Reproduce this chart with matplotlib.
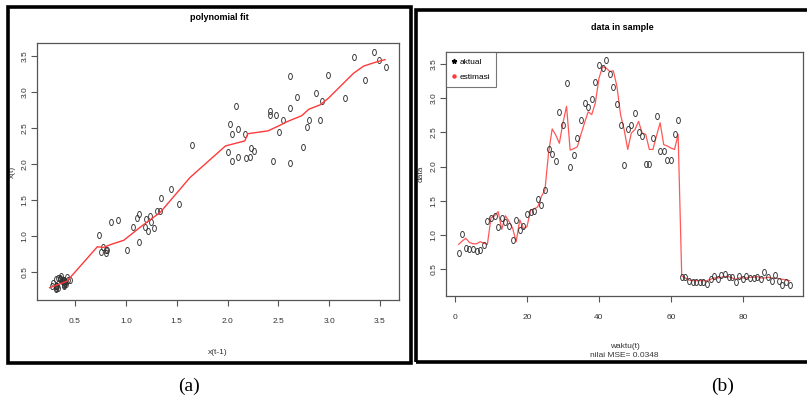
import numpy as np
import matplotlib
matplotlib.use("Agg")
import matplotlib.pyplot as plt
from matplotlib.path import Path
from matplotlib.patches import Rectangle

# actual series (data in sample), t = 1..93
aktual = [0.74, 1.01, 0.81, 0.80, 0.80, 0.76, 0.78, 0.85, 1.20, 1.24,
          1.28, 1.11, 1.25, 1.19, 1.13, 0.92, 1.22, 1.07, 1.13, 1.31,
          1.34, 1.35, 1.52, 1.44, 1.65, 2.26, 2.18, 2.08, 2.80, 2.61,
          3.22, 2.00, 2.17, 2.42, 2.68, 2.93, 2.87, 2.99, 3.24, 3.49,
          3.44, 3.56, 3.35, 3.16, 2.91, 2.61, 2.02, 2.55, 2.61, 2.78,
          2.51, 2.45, 2.04, 2.04, 2.42, 2.74, 2.23, 2.22, 2.10, 2.10,
          2.48, 2.68, 0.38, 0.39, 0.32, 0.31, 0.31, 0.31, 0.31, 0.28,
          0.35, 0.40, 0.35, 0.42, 0.43, 0.39, 0.39, 0.31, 0.40, 0.35,
          0.40, 0.37, 0.37, 0.39, 0.36, 0.45, 0.39, 0.33, 0.41, 0.33,
          0.27, 0.31, 0.26]

# fitted series (estimasi)
estimasi = [0.86, 0.91, 0.95, 0.89, 0.87, 0.87, 0.90, 0.88, 0.86, 1.25,
            1.28, 1.34, 1.08, 1.28, 1.20, 1.10, 0.90, 1.22, 1.09, 1.12,
            1.36, 1.38, 1.41, 1.56, 1.66, 2.20, 2.55, 2.46, 2.34, 2.64,
            2.88, 2.24, 2.26, 2.29, 2.47, 2.64, 2.80, 2.76, 2.93, 3.29,
            3.46, 3.44, 3.39, 3.40, 3.17, 2.76, 2.54, 2.25, 2.49, 2.54,
            2.66, 2.49, 2.47, 2.25, 2.25, 2.45, 2.64, 2.32, 2.30, 2.27,
            2.25, 2.47, 0.40, 0.37, 0.34, 0.33, 0.33, 0.33, 0.33, 0.33,
            0.35, 0.37, 0.37, 0.38, 0.39, 0.39, 0.37, 0.35, 0.37, 0.37,
            0.37, 0.38, 0.38, 0.39, 0.37, 0.37, 0.38, 0.37, 0.37, 0.36,
            0.35, 0.34, 0.33]

# polynomial fit curve (left panel)
fit_x = [0.25, 0.42, 0.62, 0.72, 0.78, 0.85, 0.98, 1.14, 1.34, 1.63,
         1.98, 2.17, 2.20, 2.40, 2.52, 2.59, 2.73, 2.80, 2.91, 2.99,
         3.24, 3.34, 3.45, 3.55]
fit_y = [0.28, 0.37, 0.69, 0.85, 0.84, 0.88, 0.94, 1.12, 1.33, 1.81,
         2.25, 2.32, 2.42, 2.46, 2.54, 2.59, 2.67, 2.76, 2.82, 2.91,
         3.26, 3.36, 3.41, 3.45]

# time steps whose (x(t-1), x(t)) pair does not show in the lag plot
lag_skip = [32, 63]

t = np.arange(1, len(aktual) + 1)
act = np.array(aktual)
x_prev = act[:-1]
x_next = act[1:]
keep = ~np.isin(t[1:], lag_skip)

# tall "0"-like open circle marker
th = np.linspace(0, 2 * np.pi, 40)
oval = Path(np.column_stack([0.62 * np.cos(th), np.sin(th)]))

plt.rcParams['font.family'] = ['Liberation Sans', 'DejaVu Sans']
W, H = 807, 405
fig = plt.figure(figsize=(W / 100, H / 100), dpi=100)

def box(x0, y0, x1, y1):
    return [x0 / W, 1 - y1 / H, (x1 - x0) / W, (y1 - y0) / H]

def style(ax):
    for s in ax.spines.values():
        s.set_color('#555555')
        s.set_linewidth(0.9)
    ax.tick_params(direction='out', length=4, width=0.8, color='#555555',
                   labelsize=6, labelcolor='#333333', pad=2)
    for lab in ax.get_yticklabels():
        lab.set_rotation(90)
        lab.set_va('center')

# frames
fig.patches.append(Rectangle((8 / W, 1 - 363 / H), 403 / W, 356 / H, fill=False,
                             lw=2.6, ec='black', transform=fig.transFigure))
fig.patches.append(Rectangle((416 / W, 1 - 362 / H), 400 / W, 352 / H, fill=False,
                             lw=2.6, ec='black', transform=fig.transFigure))

# (a) polynomial fit
ax1 = fig.add_axes(box(37, 43, 399, 300))
ax1.plot(x_prev[keep], x_next[keep], linestyle='none', marker=oval, markersize=4.4,
         mfc='none', mec='#333333', mew=0.65)
ax1.plot(fit_x, fit_y, color='#ff3a3a', lw=1.0)
ax1.set_xlim(0.126, 3.687)
ax1.set_ylim(0.11, 3.68)
ax1.set_xticks([0.5, 1.0, 1.5, 2.0, 2.5, 3.0, 3.5])
ax1.set_yticks([0.5, 1.0, 1.5, 2.0, 2.5, 3.0, 3.5])
ax1.set_xticklabels(['0.5', '1.0', '1.5', '2.0', '2.5', '3.0', '3.5'])
ax1.set_yticklabels(['0.5', '1.0', '1.5', '2.0', '2.5', '3.0', '3.5'])
style(ax1)
ax1.tick_params(axis='x', pad=9)
ax1.set_xlabel('x(t-1)', fontsize=6, color='#333333', labelpad=17)
ax1.set_ylabel('x(t)', fontsize=6, color='#333333', labelpad=4)
fig.text(219 / W, 1 - 18 / H, 'polynomial fit', ha='center', va='center',
         fontsize=6.5, fontweight='bold')

# (b) data in sample
ax2 = fig.add_axes(box(446, 52, 803, 296))
ax2.plot(t, estimasi, color='#ff3a3a', lw=0.9, alpha=0.85)
ax2.plot(t, aktual, linestyle='none', marker=oval, markersize=4.4,
         mfc='none', mec='#333333', mew=0.65)
ax2.set_xlim(-2.5, 96.7)
ax2.set_ylim(0.106, 3.675)
ax2.set_xticks([0, 20, 40, 60, 80])
ax2.set_yticks([0.5, 1.0, 1.5, 2.0, 2.5, 3.0, 3.5])
ax2.set_yticklabels(['0.5', '1.0', '1.5', '2.0', '2.5', '3.0', '3.5'])
style(ax2)
ax2.tick_params(axis='x', pad=9)
ax2.set_xlabel('waktu(t)\nnilai MSE= 0.0348', fontsize=6, color='#333333',
               labelpad=16, linespacing=1.35)
ax2.set_ylabel('data', fontsize=6, color='#333333', labelpad=4)
ax2.plot([], [], linestyle='none', marker='*', markersize=3.5, color='black', label='aktual')
ax2.plot([], [], linestyle='none', marker='o', markersize=2.2, color='#ff3a3a', label='estimasi')
leg = ax2.legend(loc='upper left', fontsize=6, frameon=True, fancybox=False,
                 borderaxespad=0, handlelength=0.5, handletextpad=0.4,
                 borderpad=0.7, labelspacing=0.9)
leg.get_frame().set_edgecolor('#555555')
leg.get_frame().set_linewidth(0.8)
fig.text(622 / W, 1 - 27 / H, 'data in sample', ha='center', va='center',
         fontsize=6.5, fontweight='bold')

# captions
fig.text(189 / W, 1 - 386 / H, '(a)', ha='center', va='center', fontsize=14,
         family='Liberation Serif')
fig.text(723 / W, 1 - 386 / H, '(b)', ha='center', va='center', fontsize=14,
         family='Liberation Serif')

fig.savefig('out.png', dpi=100)
